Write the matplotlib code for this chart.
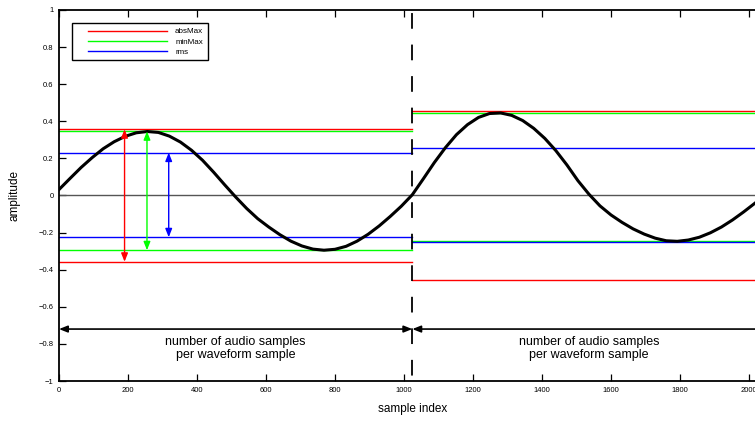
import numpy as np
import matplotlib
matplotlib.use("Agg")
import matplotlib.pyplot as plt
from matplotlib.lines import Line2D
from matplotlib.legend_handler import HandlerLine2D

plt.rcParams['font.family'] = ['Liberation Sans', 'DejaVu Sans']
plt.rcParams['lines.scale_dashes'] = False

# waveform, one value every 32 samples (0 .. 2048)
pas_echantillon = 32
signal = [0.032, 0.092, 0.151, 0.204, 0.252, 0.290, 0.319, 0.338, 0.345,
          0.340, 0.320, 0.288, 0.244, 0.190, 0.126, 0.058,
          -0.008, -0.070, -0.125, -0.170, -0.211, -0.246, -0.272, -0.289, -0.295,
          -0.290, -0.274, -0.246, -0.209, -0.164, -0.113, -0.058,
          0.004, 0.090, 0.178, 0.258, 0.328, 0.382, 0.421, 0.442,
          0.445, 0.432, 0.404, 0.362, 0.308, 0.242, 0.165, 0.080,
          0.007, -0.056, -0.105, -0.145, -0.180, -0.208, -0.230, -0.244,
          -0.247, -0.240, -0.225, -0.201, -0.170, -0.132, -0.089, -0.043,
          0.003]

# limites des blocs (echantillons audio par echantillon de forme d'onde)
blocs = [0, 1024, 2048]

# niveaux par bloc
absmax_haut = [0.357, 0.457]
absmax_bas = [-0.357, -0.455]
minmax_haut = [0.346, 0.446]
minmax_bas = [-0.295, -0.247]
rms_haut = [0.231, 0.256]
rms_bas = [-0.225, -0.252]

# position des fleches verticales (bloc 1)
x_fleches = {'absMax': 190, 'minMax': 255, 'rms': 318}

yticks = [-1, -0.8, -0.6, -0.4, -0.2, 0, 0.2, 0.4, 0.6, 0.8, 1]
ytick_labels = ['\u22121', '\u22120.8', '\u22120.6', '\u22120.4', '\u22120.2', '0',
                '0.2', '0.4', '0.6', '0.8', '1']
xticks = [0, 200, 400, 600, 800, 1000, 1200, 1400, 1600, 1800, 2000]

couleurs = {'absMax': '#ff0000', 'minMax': '#00ff00', 'rms': '#0000ff'}
texte_bloc = 'number of audio samples\nper waveform sample'

###Figure###
fig = plt.figure(figsize=(7.55, 4.22), dpi=100)
#l'axe depasse a droite, comme sur l'image d'origine (2048 est coupe)
ax = fig.add_axes([59 / 755, 41 / 422, 706.6 / 755, 371 / 422])

x_signal = np.arange(len(signal)) * pas_echantillon

#ligne du zero
ax.plot([blocs[0], blocs[-1]], [0, 0], color='#555555', lw=1.0, zorder=2)

#niveaux par bloc
niveaux = [('absMax', absmax_haut, absmax_bas),
           ('minMax', minmax_haut, minmax_bas),
           ('rms', rms_haut, rms_bas)]
for nom, haut, bas in niveaux:
    for i in range(len(blocs) - 1):
        ax.plot([blocs[i], blocs[i + 1]], [haut[i], haut[i]], color=couleurs[nom], lw=1.0, zorder=2)
        ax.plot([blocs[i], blocs[i + 1]], [bas[i], bas[i]], color=couleurs[nom], lw=1.0, zorder=2)

#separation des blocs
ax.plot([blocs[1], blocs[1]], [1, -1], color='k', lw=1.3,
        linestyle=(20.5, (11.3, 11.4)), zorder=3)

#signal
ax.plot(x_signal, signal, color='k', lw=2.2, zorder=4, solid_joinstyle='round')

#fleches verticales
for nom, haut, bas in niveaux:
    ax.annotate('', xy=(x_fleches[nom], haut[0]), xytext=(x_fleches[nom], bas[0]),
                arrowprops=dict(arrowstyle='<|-|>,head_length=0.5,head_width=0.2',
                                color=couleurs[nom], lw=1.0, shrinkA=0, shrinkB=0,
                                mutation_scale=10), zorder=5)

#fleches horizontales + texte
for i in range(len(blocs) - 1):
    ax.annotate('', xy=(blocs[i], -0.72), xytext=(blocs[i + 1], -0.72),
                arrowprops=dict(arrowstyle='<|-|>,head_length=0.5,head_width=0.2',
                                color='k', lw=1.2, shrinkA=0, shrinkB=0,
                                mutation_scale=10), zorder=5)
    ax.text((blocs[i] + blocs[i + 1]) / 2, -0.825, texte_bloc, ha='center', va='center',
            fontsize=9, linespacing=1.15)

ax.set_xlim(blocs[0], blocs[-1])
ax.set_ylim(-1, 1)
ax.set_xticks(xticks)
ax.set_xticklabels([str(t) for t in xticks])
ax.set_yticks(yticks)
ax.set_yticklabels(ytick_labels)
ax.tick_params(direction='in', length=5, width=0.9, top=True, right=True,
               labelsize=5.5, pad=4)
for s in ax.spines.values():
    s.set_linewidth(1.3)

ax.set_xlabel('sample index', fontsize=8.5, labelpad=7)
ax.set_ylabel('amplitude', fontsize=8.5, labelpad=13)

#legende
poignees = [Line2D([], [], color=couleurs[n], lw=1.0) for n in ['absMax', 'minMax', 'rms']]
leg = ax.legend(poignees, ['absMax', 'minMax', 'rms'], loc='upper left',
                bbox_to_anchor=(0.0184, 0.965), borderaxespad=0, fontsize=5.8,
                handlelength=11.2, handletextpad=1.0, labelspacing=0.3,
                borderpad=0.6, fancybox=False, framealpha=1,
                handler_map={Line2D: HandlerLine2D(xpad=1.4)})
leg.get_frame().set_edgecolor('k')
leg.get_frame().set_linewidth(1.0)

fig.savefig('out.png', dpi=100)
